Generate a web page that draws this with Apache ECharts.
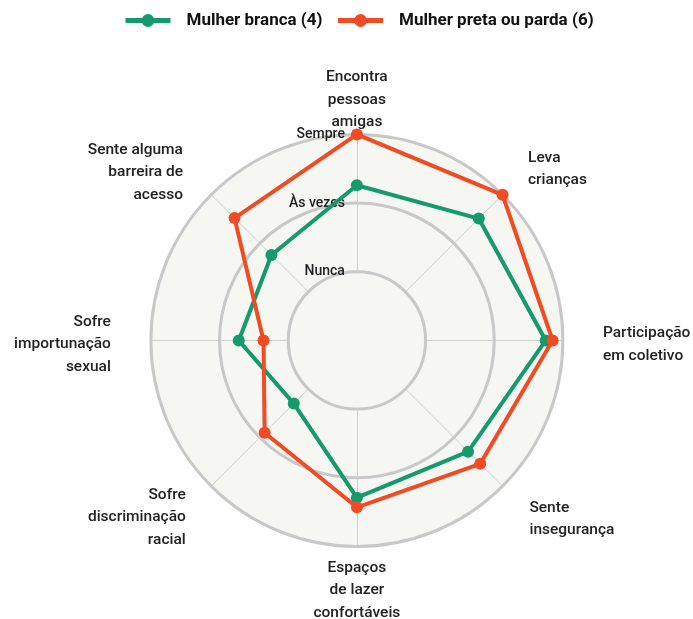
<!DOCTYPE html>
<html>
<head>
<meta charset="utf-8">
<script src="https://cdn.jsdelivr.net/npm/echarts@6/dist/echarts.min.js"></script>
<style>
html,body{margin:0;padding:0;background:#fff;}
#chart{width:693px;height:619px;}
</style>
</head>
<body>
<div id="chart"></div>
<script>
// Indicators (counter-clockwise from top, as ECharts draws them)
const indicatorNames = [
  'Encontra\npessoas\namigas',
  'Sente alguma\nbarreira de\nacesso',
  'Sofre\nimportunação\nsexual',
  'Sofre\ndiscriminação\nracial',
  'Espaços\nde lazer\nconfortáveis',
  'Sente\ninsegurança',
  'Participação\nem coletivo',
  'Leva\ncrianças'
];
const tickLabels = ['', 'Nunca', 'Às vezes', 'Sempre'];
const seriesNames = ['Mulher branca (4)', 'Mulher preta ou parda (6)'];
const brancaValues = [2.26, 1.76, 1.72, 1.30, 2.29, 2.29, 2.75, 2.51];
const pretaValues  = [3.00, 2.52, 1.36, 1.90, 2.43, 2.54, 2.85, 3.00];
const colors = ['#149a6c', '#f04b23'];

const FONT = 'Roboto';
const center = ['51.5%', '55%'];
const radius = 206;
const maxV = 3;
const areaColor = '#f6f6f3';

// per-indicator name placement tweaks: gap from ring, spacer above text
const nameGaps = [1, 40, 40, 36, 10, 38, 40, 36];
const nameSpacer = [0, 12, 8, 12, 0, 12, 8, 0];

function plainIndicators() {
  return indicatorNames.map(n => ({ name: n, min: 0, max: maxV }));
}
const indicatorsTop = indicatorNames.map((n, i) => {
  const o = { name: n, min: 0, max: maxV, nameGap: nameGaps[i], nameMoveOverlap: false };
  if (i === 0) {
    o.axisLabel = {
      show: true,
      margin: 12,
      formatter: v => tickLabels[Math.round(v)] || '',
      color: '#1e1e1e',
      fontFamily: FONT,
      fontSize: 14,
      fontWeight: 500
    };
  }
  return o;
});

const chart = echarts.init(document.getElementById('chart'), null, { renderer: 'canvas' });
chart.setOption({
  animation: false,
  textStyle: { fontFamily: FONT },
  legend: {
    top: 7,
    left: 118,
    itemWidth: 45,
    itemHeight: 16,
    itemGap: 13,
    data: seriesNames,
    lineStyle: { width: 5 },
    textStyle: { fontFamily: FONT, fontSize: 17, fontWeight: 'bold', color: '#111', padding: [0, 0, 0, 11] }
  },
  grid: { show: false, left: 0, top: 0, width: 1, height: 1 },
  xAxis: { show: false, type: 'value' },
  yAxis: { show: false, type: 'value' },
  radar: [
    {
      // background bands
      center: center, radius: radius, shape: 'circle', splitNumber: 3,
      indicator: plainIndicators(),
      axisName: { show: false },
      axisLine: { show: false }, axisTick: { show: false }, axisLabel: { show: false },
      splitLine: { show: false },
      splitArea: { show: true, areaStyle: { color: [areaColor, areaColor, areaColor] } },
      z: 1
    },
    {
      // radial axis lines
      center: center, radius: radius, shape: 'circle', splitNumber: 3,
      indicator: plainIndicators(),
      axisName: { show: false },
      axisLine: { show: true, lineStyle: { color: '#cfcfcf', width: 1 } },
      axisTick: { show: false }, axisLabel: { show: false },
      splitLine: { show: false },
      splitArea: { show: false },
      z: 2
    },
    {
      // inner disc, rings, names and tick labels
      center: center, radius: radius, shape: 'circle', splitNumber: 3,
      indicator: indicatorsTop,
      axisName: {
        color: '#222', fontFamily: FONT, fontSize: 15.5, fontWeight: 500, lineHeight: 22.5,
        formatter: function (name) {
          const i = indicatorNames.indexOf(name);
          const sp = i >= 0 ? nameSpacer[i] : 0;
          return sp ? '{s' + sp + '| }\n' + name : name;
        },
        rich: {
          s8: { fontSize: 6, lineHeight: 8 },
          s12: { fontSize: 6, lineHeight: 12 }
        }
      },
      axisLine: { show: false },
      axisTick: { show: false },
      axisLabel: { show: false },
      splitLine: { show: true, lineStyle: { color: '#c8c8c8', width: 3 } },
      splitArea: { show: true, areaStyle: { color: [areaColor, 'rgba(0,0,0,0)', 'rgba(0,0,0,0)'] } },
      z: 3
    }
  ],
  series: [
    {
      type: 'line', name: seriesNames[0], data: [], color: colors[0],
      symbol: 'circle', symbolSize: 12, lineStyle: { width: 5 }
    },
    {
      type: 'line', name: seriesNames[1], data: [], color: colors[1],
      symbol: 'circle', symbolSize: 12, lineStyle: { width: 5 }
    },
    {
      type: 'radar',
      radarIndex: 2,
      z: 5,
      symbol: 'circle',
      symbolSize: 12,
      data: [
        { name: seriesNames[0], value: brancaValues, itemStyle: { color: colors[0] }, lineStyle: { color: colors[0], width: 4 } },
        { name: seriesNames[1], value: pretaValues, itemStyle: { color: colors[1] }, lineStyle: { color: colors[1], width: 4 } }
      ]
    }
  ]
});
</script>
</body>
</html>
